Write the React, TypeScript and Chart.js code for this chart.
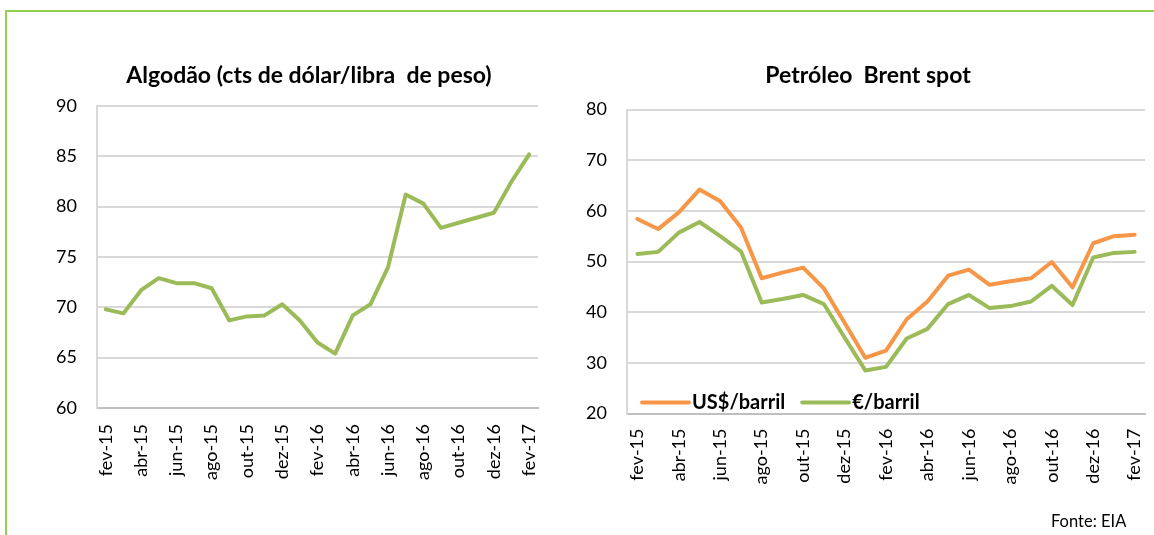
import React, { useEffect, useRef } from "react";
import { Chart, registerables } from "chart.js";

Chart.register(...registerables);

const FONT = "Lato, 'Open Sans', sans-serif";

const months = [
  "fev-15", "mar-15", "abr-15", "mai-15", "jun-15", "jul-15", "ago-15", "set-15",
  "out-15", "nov-15", "dez-15", "jan-16", "fev-16", "mar-16", "abr-16", "mai-16",
  "jun-16", "jul-16", "ago-16", "set-16", "out-16", "nov-16", "dez-16", "jan-17", "fev-17",
];

const cotton = [
  69.8, 69.4, 71.7, 72.9, 72.4, 72.4, 71.9, 68.7, 69.1, 69.2, 70.3, 68.7, 66.5,
  65.4, 69.2, 70.3, 74.0, 81.2, 80.3, 77.9, 78.4, 78.9, 79.4, 82.5, 85.2,
];

const brentUsd = [
  58.4, 56.4, 59.7, 64.2, 61.9, 56.7, 46.7, 47.8, 48.8, 44.7, 37.9, 31.0, 32.4,
  38.6, 42.1, 47.2, 48.4, 45.4, 46.1, 46.7, 49.9, 44.9, 53.6, 55.0, 55.3,
];

const brentEur = [
  51.5, 51.9, 55.7, 57.8, 55.0, 52.0, 41.9, 42.6, 43.4, 41.6, 35.0, 28.5, 29.2,
  34.8, 36.7, 41.6, 43.4, 40.8, 41.2, 42.1, 45.2, 41.4, 50.8, 51.7, 51.9,
];

const cottonTitle = "Algodão (cts de dólar/libra  de peso)";
const brentTitle = "Petróleo  Brent spot";
const usdLabel = "US$/barril";
const eurLabel = "€/barril";
const sourceText = "Fonte: EIA";

const GREEN = "#9BBB59";
const ORANGE = "#F79646";
const GRID = "#D9D9D9";

const insideLegend = {
  id: "insideLegend",
  afterDraw(chart: any) {
    const opts = chart.options.plugins.insideLegend;
    if (!opts || !opts.display) return;
    const { ctx, chartArea } = chart;
    const y = chartArea.bottom - 11;
    let x = chartArea.left + 15;
    ctx.save();
    ctx.font = `bold 20px ${FONT}`;
    ctx.textBaseline = "middle";
    ctx.textAlign = "left";
    chart.data.datasets.forEach((ds: any) => {
      ctx.strokeStyle = ds.borderColor;
      ctx.lineWidth = 4;
      ctx.lineCap = "round";
      ctx.beginPath();
      ctx.moveTo(x, y);
      ctx.lineTo(x + 47, y);
      ctx.stroke();
      x += 50;
      ctx.fillStyle = "#000";
      ctx.fillText(ds.label, x, y);
      x += ctx.measureText(ds.label).width + 17;
    });
    ctx.restore();
  },
};

type Layout = {
  padL: number;
  padR: number;
  padT: number;
  padB: number;
  yW: number;
  xH: number;
  xPad: number;
};

function makeOptions(yMin: number, yMax: number, step: number, lay: Layout, legend: boolean): any {
  return {
    responsive: false,
    animation: false,
    layout: {
      padding: { left: lay.padL, right: lay.padR, top: lay.padT, bottom: lay.padB },
    },
    plugins: {
      legend: { display: false },
      tooltip: { enabled: false },
      title: { display: false },
      insideLegend: { display: legend },
    },
    elements: {
      point: { radius: 0 },
      line: { tension: 0, borderWidth: 4, borderJoinStyle: "round", borderCapStyle: "round" },
    },
    scales: {
      x: {
        offset: true,
        grid: { display: false, drawTicks: false },
        border: { display: true, color: "#BFBFBF", width: 2 },
        ticks: {
          autoSkip: false,
          minRotation: 90,
          maxRotation: 90,
          padding: lay.xPad,
          color: "#000",
          font: { family: FONT, size: 18 },
          callback: (_v: any, i: number) => (i % 2 === 0 ? months[i] : ""),
        },
        afterFit: (s: any) => {
          s.height = lay.xH;
          s.paddingLeft = 0;
          s.paddingRight = 0;
        },
      },
      y: {
        min: yMin,
        max: yMax,
        grid: { color: GRID, lineWidth: 2, drawTicks: false },
        border: { display: true, color: GRID, width: 2 },
        ticks: {
          stepSize: step,
          padding: 20,
          color: "#000",
          font: { family: FONT, size: 18 },
        },
        afterFit: (s: any) => {
          s.width = lay.yW;
          s.paddingTop = 0;
          s.paddingBottom = 0;
        },
      },
    },
  };
}

function ChartCanvas({
  left,
  width,
  config,
}: {
  left: number;
  width: number;
  config: () => any;
}) {
  const ref = useRef<HTMLCanvasElement>(null);
  useEffect(() => {
    const chart = new Chart(ref.current as HTMLCanvasElement, config());
    return () => chart.destroy();
  }, []);
  return (
    <canvas
      ref={ref}
      width={width}
      height={535}
      style={{ position: "absolute", left, top: 0, width, height: 535 }}
    />
  );
}

function Title({ text, center }: { text: string; center: number }) {
  return (
    <div
      style={{
        position: "absolute",
        left: center - 300,
        width: 600,
        top: 59,
        textAlign: "center",
        fontFamily: FONT,
        fontWeight: "bold",
        fontSize: 23,
        lineHeight: "30px",
        color: "#000",
        whiteSpace: "pre",
      }}
    >
      {text}
    </div>
  );
}

export default function App() {
  const cottonConfig = () => ({
    type: "line",
    data: {
      labels: months,
      datasets: [{ label: "Algodão", data: cotton, borderColor: GREEN, backgroundColor: GREEN }],
    },
    options: makeOptions(
      60,
      90,
      5,
      { padL: 20, padR: 42, padT: 106, padB: 37, yW: 77, xH: 90, xPad: 16 },
      false
    ),
  });

  const brentConfig = () => ({
    type: "line",
    data: {
      labels: months,
      datasets: [
        { label: usdLabel, data: brentUsd, borderColor: ORANGE, backgroundColor: ORANGE },
        { label: eurLabel, data: brentEur, borderColor: GREEN, backgroundColor: GREEN },
      ],
    },
    options: makeOptions(
      20,
      80,
      10,
      { padL: 0, padR: 9, padT: 109.5, padB: 31.5, yW: 47, xH: 90, xPad: 15 },
      true
    ),
    plugins: [insideLegend],
  });

  return (
    <div
      style={{
        position: "absolute",
        left: 0,
        top: 0,
        width: 1154,
        height: 535,
        overflow: "hidden",
        background: "#fff",
      }}
    >
      <div
        style={{
          position: "absolute",
          left: 5,
          top: 10,
          width: 1160,
          height: 540,
          borderTop: "2px solid #92D050",
          borderLeft: "2px solid #92D050",
          boxSizing: "border-box",
        }}
      />
      <ChartCanvas left={0} width={580} config={cottonConfig} />
      <ChartCanvas left={580} width={574} config={brentConfig} />
      <Title text={cottonTitle} center={309} />
      <Title text={brentTitle} center={868} />
      <div
        style={{
          position: "absolute",
          left: 1051,
          top: 511,
          fontFamily: FONT,
          fontSize: 16.5,
          lineHeight: "20px",
          color: "#000",
          whiteSpace: "nowrap",
        }}
      >
        {sourceText}
      </div>
    </div>
  );
}
